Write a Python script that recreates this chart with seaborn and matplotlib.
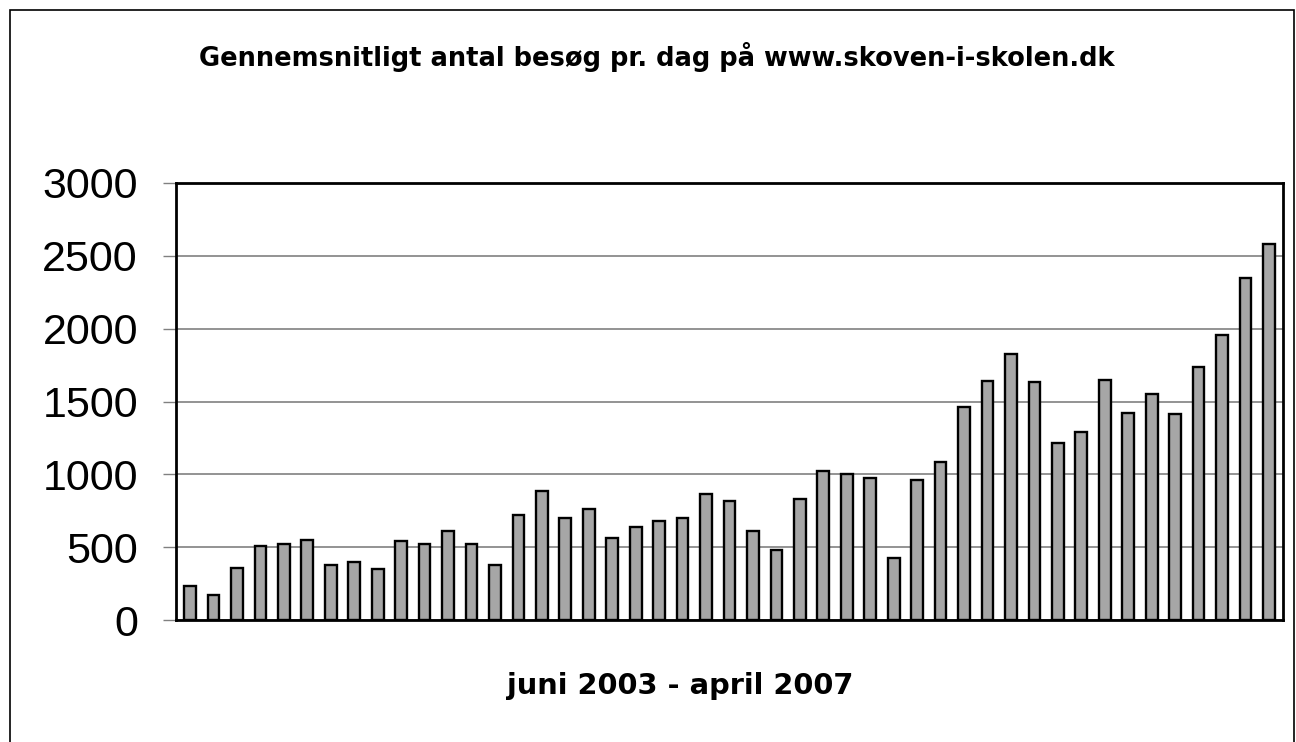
import pandas as pd
import seaborn as sns
import matplotlib.pyplot as plt
from matplotlib.patches import Rectangle

# monthly averages, juni 2003 - april 2007
months = pd.date_range("2003-06-01", "2007-04-01", freq="MS").strftime("%b %Y").tolist()
visits = [234, 175, 356, 506, 520, 549, 377, 398, 349, 540,
          520, 611, 520, 377, 722, 883, 701, 759, 561, 641,
          678, 701, 867, 814, 609, 478, 830, 1021, 1005, 975,
          423, 963, 1088, 1460, 1639, 1823, 1637, 1216, 1290, 1648,
          1418, 1554, 1411, 1738, 1956, 2347, 2582]
title = "Gennemsnitligt antal besøg pr. dag på www.skoven-i-skolen.dk"
xlabel = "juni 2003 - april 2007"

df = pd.DataFrame({"month": months, "visits": visits})

sns.set_style("white")
plt.rcParams["font.family"] = ["Liberation Sans", "DejaVu Sans"]
plt.rcParams["text.color"] = "black"
plt.rcParams["ytick.color"] = "#808080"
plt.rcParams["ytick.labelcolor"] = "black"

W, H = 1296, 742
fig = plt.figure(figsize=(W / 100, H / 100), dpi=100)
ax = fig.add_axes([176 / W, 1 - 620 / H, (1283 - 176) / W, (620 - 183) / H])

sns.barplot(data=df, x="month", y="visits", color="#a6a6a6", saturation=1,
            edgecolor="black", linewidth=1.7, width=0.5, ax=ax, zorder=3)

ax.set_ylim(0, 3000)
ax.set_yticks(range(0, 3001, 500))
ax.tick_params(axis="y", labelsize=31, length=9.4, width=1, direction="out",
               left=True, pad=18)
ax.set_xticks([])
ax.set_xlim(-0.6, len(months) - 0.4)
ax.yaxis.grid(True, color="#808080", linewidth=1.2, zorder=0)
ax.set_axisbelow(True)
for s in ax.spines.values():
    s.set_color("black")
    s.set_linewidth(2)
    s.set_visible(True)
ax.set_ylabel("")
ax.set_xlabel("")

fig.text(657 / W, 1 - 66 / H, title, ha="center", va="baseline",
         fontsize=18.5, fontweight="bold", family="DejaVu Sans")
fig.text(680 / W, 1 - 694 / H, xlabel, ha="center", va="baseline",
         fontsize=20.8, fontweight="bold", family="DejaVu Sans")

# outer chart frame
fig.patches.append(Rectangle((10 / W, -0.1), 1284 / W, 1.1 - 10 / H,
                             transform=fig.transFigure, fill=False,
                             edgecolor="black", linewidth=1.2))

fig.savefig("out.png", dpi=100)
